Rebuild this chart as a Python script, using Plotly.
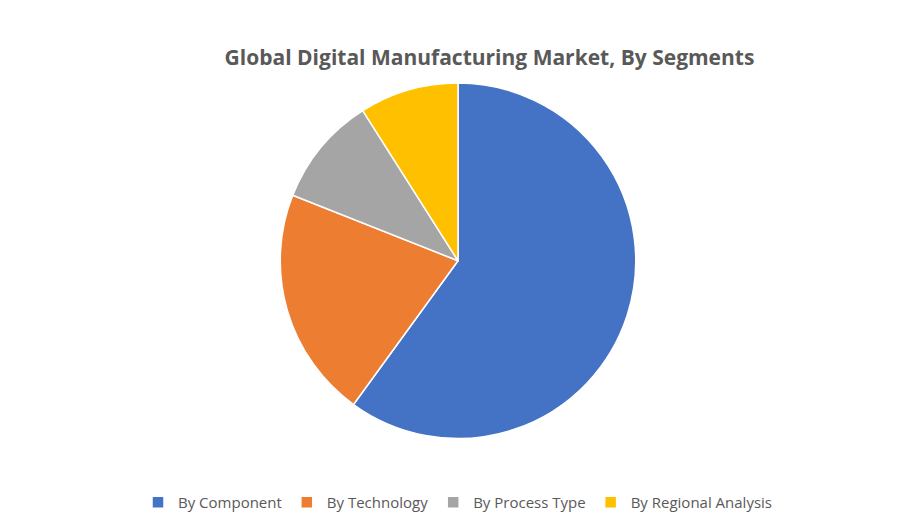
import plotly.graph_objects as go

segments = ["By Component", "By Technology", "By Process Type", "By Regional Analysis"]
shares = [60, 21, 10, 9]
colors = ["#4472C4", "#ED7D31", "#A5A5A5", "#FFC000"]

fig = go.Figure(go.Pie(
    labels=segments,
    values=shares,
    sort=False,
    direction="clockwise",
    rotation=0,
    domain=dict(x=[0, 1], y=[0.1, 1]),
    marker=dict(colors=colors, line=dict(color="white", width=1.5)),
    textinfo="none",
    hoverinfo="label+percent",
))

fig.update_layout(
    width=900, height=525,
    title=dict(text="<b>Global Digital Manufacturing Market, By Segments</b>",
               x=0.535, xanchor="center", y=0.92,
               font=dict(family="Open Sans", size=21, color="#595959")),
    legend=dict(orientation="h", x=0.5, xanchor="center", y=-0.02, yanchor="top",
                font=dict(family="Open Sans", size=15, color="#595959")),
    margin=dict(l=40, r=40, t=75, b=55),
    paper_bgcolor="white",
)

fig.write_html("out.html")
